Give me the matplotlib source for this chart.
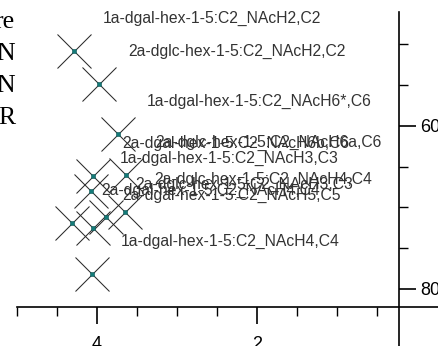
import matplotlib.pyplot as plt
from matplotlib.ticker import FixedLocator

# peak positions (1H ppm, 13C ppm) and their labels
h_ppm = [4.29, 3.975, 3.74, 4.05, 3.64, 4.075, 4.31, 4.05, 3.89, 3.65, 4.06]
c_ppm = [50.8, 54.85, 60.98, 66.13, 66.01, 67.98, 71.9, 72.52, 71.17, 70.55, 78.16]
labels = [
    '1a-dgal-hex-1-5:C2_NAcH2,C2',
    '2a-dglc-hex-1-5:C2_NAcH2,C2',
    '1a-dgal-hex-1-5:C2_NAcH6*,C6',
    '2a-dgal-hex-1-5:C2_NAcH6b,C6',
    '2a-dglc-hex-1-5:C2_NAcH6a,C6',
    '1a-dgal-hex-1-5:C2_NAcH3,C3',
    '2a-dgal-hex-1-5:C2_NAcH4,C4',
    '2a-dgal-hex-1-5:C2_NAcH5,C5',
    '2a-dglc-hex-1-5:C2_NAcH3,C3',
    '2a-dglc-hex-1-5:C2_NAcH4,C4',
    '1a-dgal-hex-1-5:C2_NAcH4,C4',
]
x_major = [4, 2]
x_minor = [5, 4.5, 3.5, 3, 2.5, 1.5, 1, 0.5]
y_major = [60, 80]
y_minor = [50, 55, 65, 70, 75]
side_words = ['re', 'N', 'N', 'R']

plt.rcParams['font.family'] = ['Liberation Sans', 'DejaVu Sans']

fig = plt.figure(figsize=(4.39, 3.46), dpi=100)
ax = fig.add_axes([0, 0, 1, 1])
ax.patch.set_alpha(0)

ax.plot(h_ppm, c_ppm, 'x', ms=24, mew=0.75, color='#2a2a2a', ls='none')
ax.plot(h_ppm, c_ppm, 's', ms=2.5, color='#137a78', mec='#0c5554', mew=0.4, ls='none')

for x, y, lab in zip(h_ppm, c_ppm, labels):
    ax.annotate(lab, (x, y), xytext=(29, 33), textcoords='offset pixels',
                va='center', ha='left', fontsize=11.3, color='#333333')

ax.set_xlim(5.2125, -0.275)
ax.set_ylim(87.0, 44.54)

for s in ['left', 'top']:
    ax.spines[s].set_visible(False)
ax.spines['bottom'].set_position(('data', 82.2))
ax.spines['right'].set_position(('data', 0.225))
ax.spines['bottom'].set_bounds(5.0, -0.3)
ax.spines['right'].set_bounds(46.0, 88.0)
ax.spines['bottom'].set_linewidth(1.2)
ax.spines['right'].set_linewidth(1.2)

ax.yaxis.set_ticks_position('right')
ax.xaxis.set_ticks_position('bottom')
ax.xaxis.set_major_locator(FixedLocator(x_major))
ax.xaxis.set_minor_locator(FixedLocator(x_minor))
ax.yaxis.set_major_locator(FixedLocator(y_major))
ax.yaxis.set_minor_locator(FixedLocator(y_minor))
ax.set_xticklabels(['4', '2'])
ax.set_yticklabels(['60', '80'])
ax.tick_params(which='major', direction='out', length=12, width=1.2, labelsize=13, pad=3)
ax.tick_params(axis='x', which='major', pad=9)
ax.tick_params(which='minor', direction='out', length=6.5, width=1.0)

for i, w in enumerate(side_words):
    fig.text(15 / 439, 1 - (28 + 32 * i) / 346, w, ha='right', va='baseline',
             fontsize=18.5, family=['Liberation Serif', 'DejaVu Serif'])

fig.savefig('out.png', dpi=100)
